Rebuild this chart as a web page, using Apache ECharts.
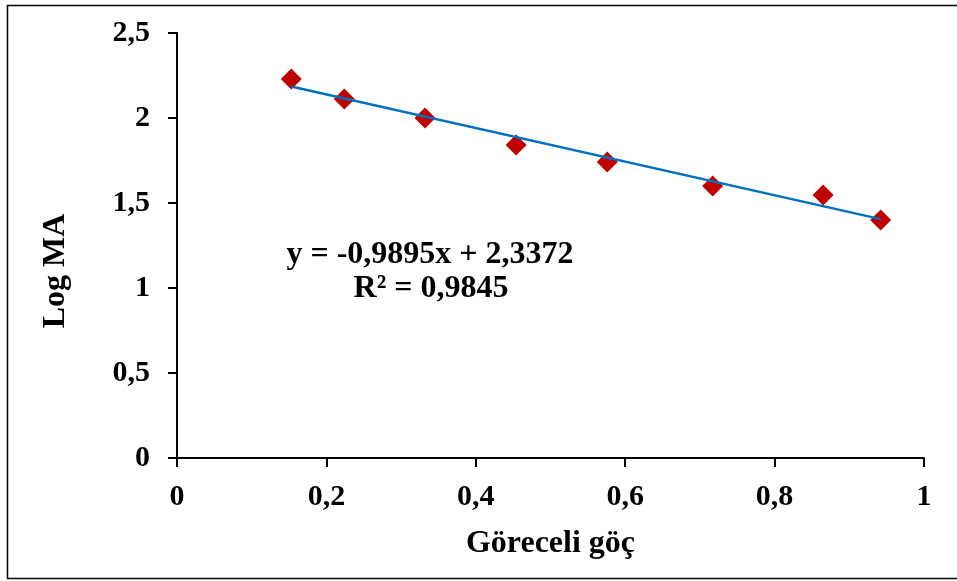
<!DOCTYPE html>
<html><head><meta charset="utf-8">
<script src="https://cdn.jsdelivr.net/npm/echarts@6/dist/echarts.min.js"></script>
<style>html,body{margin:0;padding:0;background:#fff}#c{width:957px;height:581px}</style>
</head><body><div id="c"></div>
<script>
const xValues = [0.153, 0.224, 0.332, 0.454, 0.576, 0.717, 0.865, 0.942];
const yValues = [2.229, 2.112, 2.000, 1.841, 1.741, 1.600, 1.547, 1.400];
const slope = -0.9895, intercept = 2.3372;
const eqLines = ['y = -0,9895x + 2,3372', 'R² = 0,9845'];
const xTitle = 'Göreceli göç', yTitle = 'Log MA';

const fnt = '"Liberation Serif","Times New Roman",serif';
const fmt = v => String(+v.toFixed(1)).replace('.', ',');
const xMin = Math.min(...xValues), xMax = Math.max(...xValues);
const trend = [[xMin, slope * xMin + intercept], [xMax, slope * xMax + intercept]];

const chart = echarts.init(document.getElementById('c'));
chart.setOption({
  animation: false,
  backgroundColor: '#fff',
  grid: {left: 177, right: 33, top: 33, bottom: 123},
  xAxis: {
    type: 'value', min: 0, max: 1, interval: 0.2,
    name: xTitle, nameLocation: 'middle', nameGap: 70,
    nameTextStyle: {fontFamily: fnt, fontWeight: 'bold', fontSize: 32, color: '#000'},
    axisLine: {lineStyle: {color: '#000', width: 2}},
    axisTick: {show: true, length: 9, lineStyle: {color: '#000', width: 2}},
    axisLabel: {formatter: fmt, margin: 24, fontFamily: fnt, fontWeight: 'bold', fontSize: 30, color: '#000'},
    splitLine: {show: false}
  },
  yAxis: {
    type: 'value', min: 0, max: 2.5, interval: 0.5,
    axisLine: {show: true, lineStyle: {color: '#000', width: 2}},
    axisTick: {show: true, length: 9, lineStyle: {color: '#000', width: 2}},
    axisLabel: {formatter: fmt, margin: 27, fontFamily: fnt, fontWeight: 'bold', fontSize: 30, color: '#000'},
    splitLine: {show: false}
  },
  series: [
    {type: 'line', data: trend, symbol: 'none', lineStyle: {color: '#0070C0', width: 2.5}, z: 3},
    {type: 'scatter', data: xValues.map((x, i) => [x, yValues[i]]), symbol: 'diamond', symbolSize: [21, 21],
     itemStyle: {color: '#C00000', opacity: 1}, z: 2}
  ],
  graphic: [
    {type: 'rect', shape: {x: 7.5, y: 5.5, width: 960, height: 573}, style: {fill: null, stroke: '#000', lineWidth: 1.5}, silent: true},
    {type: 'text', x: 56, y: 271, rotation: Math.PI / 2, style: {text: yTitle, font: 'bold 32px ' + fnt, fill: '#000', align: 'center', verticalAlign: 'middle'}},
    {type: 'text', x: 430, y: 255, style: {text: eqLines[0], font: 'bold 32px ' + fnt, fill: '#000', align: 'center', verticalAlign: 'middle'}},
    {type: 'text', x: 431, y: 289, style: {text: eqLines[1], font: 'bold 32px ' + fnt, fill: '#000', align: 'center', verticalAlign: 'middle'}}
  ]
});
</script></body></html>
